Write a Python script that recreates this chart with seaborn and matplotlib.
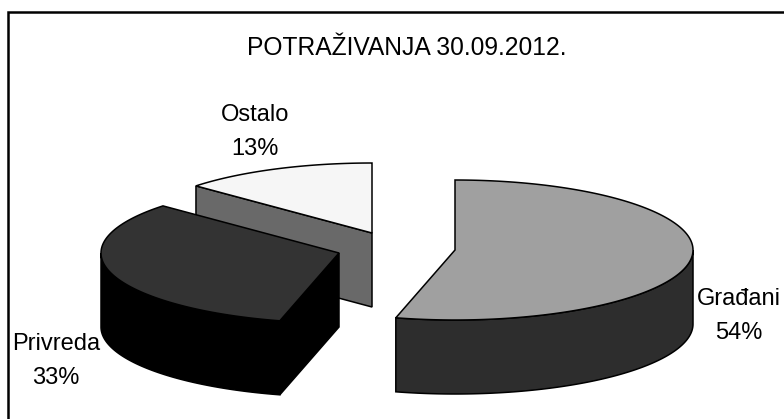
import numpy as np
import matplotlib
matplotlib.use("Agg")
import matplotlib.pyplot as plt
from matplotlib.patches import Polygon
import seaborn as sns

title = "POTRAŽIVANJA 30.09.2012."
categories = ["Građani", "Privreda", "Ostalo"]
values = [54.0, 32.75, 13.25]

sns.set_theme(style="white")
plt.rcParams["font.family"] = ["Liberation Sans", "DejaVu Sans"]

# geometry of the oblique pie, in pixels of the figure
RX, RY, DEPTH = 238, 70, 74
centers = [(455, 250), (339, 253), (372, 233)]
top_colors = ["#a0a0a0", "#333333", "#f6f6f6"]
side_colors = ["#2d2d2d", "#000000", "#696969"]
label_pos = [(739, 316), (56, 361), (255, 132)]

fig = plt.figure(figsize=(7.84, 4.19), dpi=100, facecolor="white")
ax = fig.add_axes([0, 0, 1, 1])
ax.set_xlim(0, 784)
ax.set_ylim(419, 0)
ax.axis("off")

# the chart frame is cropped: only its top and left edges are in the picture
ax.plot([8.5, 8.5, 784], [419, 12, 12], color="black", lw=1.8, solid_joinstyle="miter", zorder=1)
ax.text(407, 48, title, ha="center", va="center", fontsize=17.7, color="black", zorder=10)


def rim(c, a0, a1, dy=0):
    a = np.radians(np.linspace(a0, a1, 200))
    return np.column_stack([c[0] + RX * np.sin(a), c[1] - RY * np.cos(a) + dy])


angles = np.cumsum([0] + values) / sum(values) * 360.0

# back-to-front: Ostalo, Privreda, Građani
for i in [2, 1, 0]:
    c, a0, a1 = centers[i], angles[i], angles[i + 1]
    z = 2 + (2 - i)
    apex = np.array(c, float)
    # outer wall: the part of the rim on the viewer's side
    w0, w1 = max(a0, 90), min(a1, 270)
    if w1 > w0:
        upper = rim(c, w0, w1)
        lower = rim(c, w0, w1, DEPTH)[::-1]
        ax.add_patch(Polygon(np.vstack([upper, lower]), closed=True, fc=side_colors[i],
                             ec="black", lw=1.1, zorder=z))
    # cut face that looks at the viewer
    if i in (1, 2):
        p = rim(c, a0, a0)[0]
        face = [apex, p, p + [0, DEPTH], apex + [0, DEPTH]]
        ax.add_patch(Polygon(face, closed=True, fc=side_colors[i], ec="black", lw=1.1, zorder=z))
    top = np.vstack([apex, rim(c, a0, a1)])
    ax.add_patch(Polygon(top, closed=True, fc=top_colors[i], ec="black", lw=1.1, zorder=z + 0.5))
    ax.text(label_pos[i][0], label_pos[i][1], f"{categories[i]}\n{values[i]:.0f}%", ha="center",
            va="center", fontsize=17, color="black", linespacing=1.65, zorder=10)

fig.savefig("out.png", dpi=100, facecolor="white")
